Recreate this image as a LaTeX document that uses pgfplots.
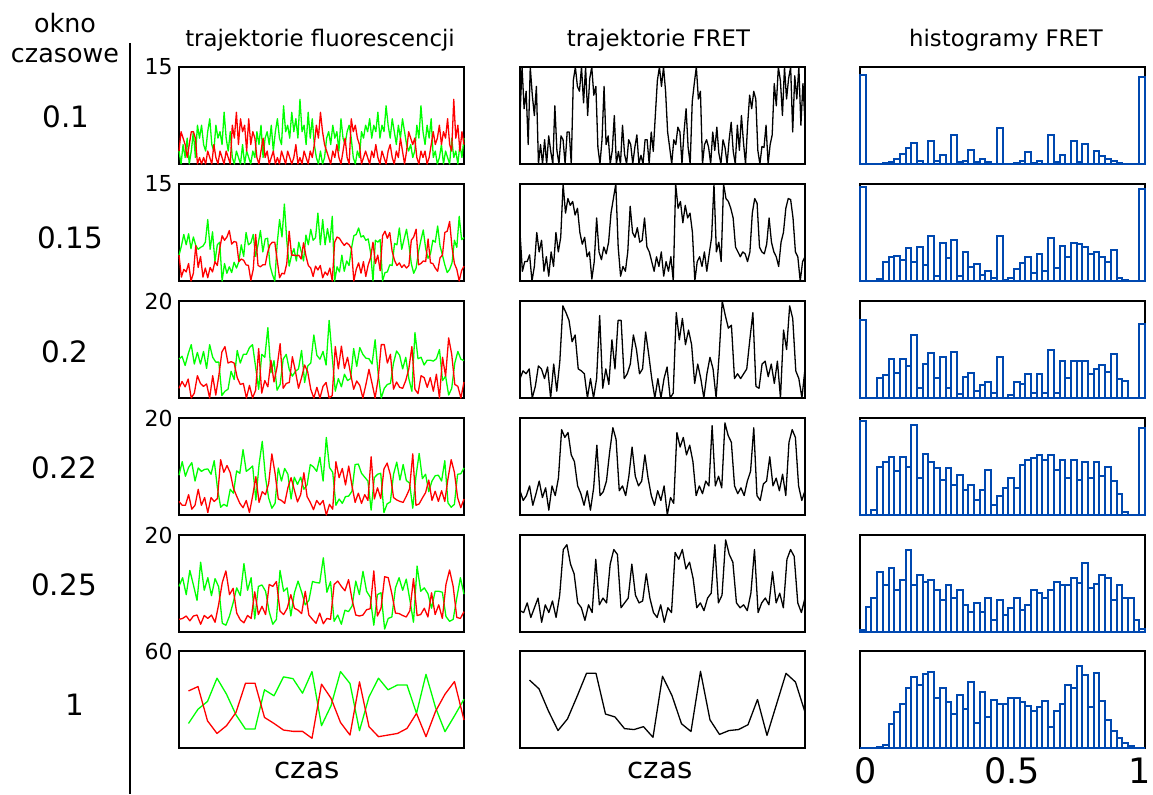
\documentclass[border=0pt]{standalone}
\usepackage{fontspec}
\setmainfont{DejaVu Sans}
\usepackage{pgfplots}
\pgfplotsset{compat=1.18}
\usepackage{pgfplotstable}
\definecolor{hgreen}{RGB}{0,255,0}
\definecolor{hred}{RGB}{255,0,0}
\definecolor{hblue}{RGB}{0,72,176}

\pgfplotsset{
 panel/.style={scale only axis, width=142.5pt, height=48.5pt, anchor=south west,
   xtick=\empty, ytick=\empty, axis line style={line width=1pt, black},
   clip=false, /pgf/number format/assume math mode=true, major tick length=0pt,
   yticklabel style={font=\fontsize{11}{13}\selectfont, inner sep=0pt, xshift=-3pt}},
 trace/.style={no marks, line width=0.65pt, line join=round},
}

\pgfplotstableread{
G R F
2 2 0.5
0 5 1
3 4 0.57
1 3 0.75
4 1 0.2
0 3 1
2 5 0.71
5 5 0.5
1 4 0.8
6 0 0
4 1 0.2
6 0 0
3 1 0.25
2 0 0
5 2 0.29
7 1 0.13
3 0 0
2 3 0.6
6 1 0.14
4 0 0
5 2 0.29
3 1 0.25
8 0 0
4 2 0.33
2 1 0.33
5 0 0
1 6 0.86
0 4 1
2 8 0.8
1 3 0.75
0 7 1
3 5 0.63
0 6 1
2 2 0.5
1 7 0.88
0 3 1
2 5 0.71
1 4 0.8
5 1 0.17
3 0 0
6 2 0.25
1 4 0.8
4 1 0.2
5 2 0.29
3 0 0
6 1 0.14
2 2 0.5
5 0 0
7 1 0.13
4 0 0
3 2 0.4
9 1 0.1
5 0 0
6 2 0.25
4 1 0.2
8 0 0
5 1 0.17
7 3 0.3
4 0 0
10 1 0.09
5 0 0
6 2 0.25
3 1 0.25
8 0 0
4 2 0.33
7 1 0.13
3 3 0.5
1 6 0.86
0 4 1
2 8 0.8
0 5 1
1 3 0.75
4 2 0.33
5 1 0.17
3 0 0
6 2 0.25
4 1 0.2
5 3 0.38
2 1 0.33
7 0 0
4 2 0.33
3 4 0.57
5 1 0.17
6 0 0
4 7 0.64
1 5 0.83
0 6 1
2 4 0.67
1 3 0.75
5 0 0
4 1 0.2
6 2 0.25
5 1 0.17
7 0 0
4 2 0.33
6 1 0.14
5 3 0.38
8 1 0.11
4 0 0
6 2 0.25
5 1 0.17
9 0 0
6 2 0.25
4 3 0.43
7 1 0.13
5 0 0
3 2 0.4
6 1 0.14
4 4 0.5
7 2 0.22
5 0 0
3 2 0.4
2 5 0.71
3 4 0.57
1 3 0.75
2 4 0.67
6 1 0.14
4 0 0
9 2 0.18
5 1 0.17
3 2 0.4
6 0 0
4 1 0.2
7 3 0.3
1 5 0.83
2 3 0.6
0 4 1
1 6 0.86
3 3 0.5
0 5 1
2 4 0.67
1 7 0.88
0 3 1
4 2 0.33
1 10 0.91
2 4 0.67
0 6 1
3 2 0.4
1 5 0.83
4 3 0.43
}\tabA

\pgfplotstableread{
G R F
4 4 0.5
5.4 0.6 0.1
7.2 1.8 0.2
5.6 1.4 0.2
7.3 2.7 0.27
5 0 0
6.8 1.2 0.15
5.5 5.5 0.5
4.9 2.1 0.3
5.2 3.8 0.42
5.4 0.6 0.1
6 2 0.25
9.5 0.5 0.05
4.9 2.1 0.3
7.6 1.4 0.15
3 3 0.5
5.6 2.4 0.3
6 5 0.45
0 7 1
2.7 6.3 0.7
1.2 6.8 0.85
2.2 7.8 0.78
1.3 5.7 0.82
2.9 6.1 0.68
2 6 0.75
3 3 0.5
5.6 3.4 0.38
3.8 3.2 0.45
7.5 2.5 0.25
5.6 2.4 0.3
5.9 0.1 0.02
7.2 1.8 0.2
3.8 7.2 0.65
5.6 2.4 0.3
7.8 2.2 0.22
4.5 2.5 0.35
6.5 2.5 0.28
6.6 4.4 0.4
2.4 5.6 0.7
1 6 0.85
0 6 1
5.8 3.2 0.35
9.5 0.5 0.05
6.8 1.2 0.15
11.9 1.1 0.1
6.3 2.7 0.3
2.3 7.7 0.77
4 4 0.5
5 4 0.45
3.1 3.9 0.55
6 4 0.4
4.6 3.4 0.42
3.1 5.9 0.65
7.1 3.9 0.35
5.6 2.4 0.3
8 2 0.2
6.3 0.7 0.1
6.7 2.3 0.25
10.5 1.7 0.15
5.6 2.4 0.3
9.5 0.5 0.05
5.6 1.4 0.2
8.1 0.9 0.1
6 2 0.25
10 0 0
0 6 1
2.2 6.8 0.75
1.4 6.6 0.82
4 6 0.6
1.5 5.5 0.78
3.1 5.9 0.65
2.4 5.6 0.7
5 5 0.5
7 0 0
7.2 1.8 0.2
8.2 2.8 0.25
6.8 1.2 0.15
7 3 0.3
6.3 0.7 0.1
6.5 2.5 0.28
4.4 3.6 0.45
0 6 1
6.3 2.7 0.3
6 4 0.4
6.4 1.6 0.2
0 7 1
1.3 7.7 0.85
1.4 6.6 0.82
2.5 7.5 0.75
2.4 4.6 0.65
5.8 3.2 0.35
5.6 2.4 0.3
8.2 2.8 0.25
4.9 2.1 0.3
6.5 2.5 0.28
8 2 0.2
5.6 2.4 0.3
2.7 6.3 0.7
1.2 6.8 0.85
2 8 0.8
4.5 2.5 0.35
6.3 2.7 0.3
7.9 3.1 0.28
5 3 0.38
3.5 6.5 0.65
4.2 2.8 0.4
6.3 2.7 0.3
6 2 0.25
8.5 1.5 0.15
5.4 3.6 0.4
4 4 0.5
2.5 7.5 0.75
1.3 7.7 0.85
1.8 9.2 0.84
2.8 5.2 0.65
6.3 2.7 0.3
5.2 1.8 0.25
10 0 0
6.4 1.6 0.2
6.7 2.3 0.25
}\tabB

\pgfplotstableread{
G R F
8 2 0.2
8.6 3.4 0.28
6.7 2.3 0.25
9.1 3.9 0.3
11 0 0
7 1 0.12
9.4 4.6 0.33
7 3 0.3
9.6 2.4 0.2
6.1 2.9 0.32
11 0 0
8.4 4.6 0.35
7.4 0.6 0.07
7.4 4.6 0.38
0.5 9.5 0.95
1.4 10.6 0.88
1.8 7.2 0.8
5.5 7.5 0.58
3.8 7.2 0.65
9.8 4.2 0.3
7.2 2.8 0.28
9 3 0.25
9 0 0
10.4 2.6 0.2
11 0 0
6.4 1.6 0.2
1.8 10.2 0.85
9 1 0.1
8.4 3.6 0.3
14.5 2.3 0.14
5.2 7.8 0.6
7.7 3.3 0.3
1.6 6.4 0.8
2.8 11.2 0.8
8 2 0.2
9 3 0.25
5.8 3.2 0.35
4.5 8.5 0.65
5.5 5.5 0.5
6 2 0.25
9.8 4.2 0.3
3.2 6.8 0.68
6.6 5.4 0.45
7.2 1.8 0.2
13 0 0
8.8 2.2 0.2
8 0 0
9.6 2.4 0.2
6.8 3.2 0.32
16 0 0
8.5 0.5 0.05
1.4 10.6 0.88
4 6 0.6
2.3 10.7 0.82
4.9 6.1 0.55
3.6 8.4 0.7
4 5 0.55
10.2 1.8 0.15
6.5 3.5 0.35
10.4 2.6 0.2
9 0 0
8.2 2.8 0.25
8.1 5.9 0.42
7 3 0.3
12 0 0
5 4 0.45
0 11 1
2 11 0.85
2.8 7.2 0.72
3 9 0.75
7.2 1.8 0.2
9.7 3.3 0.25
8.8 2.2 0.2
6 2 0.25
8.4 3.6 0.3
4 6 0.6
1.4 10.6 0.88
13.5 1.8 0.12
8.1 0.9 0.1
8.4 4.6 0.35
6.8 4.2 0.38
7.8 2.2 0.22
7.8 4.2 0.35
7.6 1.4 0.15
8.1 4.9 0.38
10 0 0
3.6 8.4 0.7
4.5 4.5 0.5
0.6 12.4 0.95
2 9 0.82
7.2 2.8 0.28
9.6 2.4 0.2
8 0 0
7.7 3.3 0.3
}\tabC

\pgfplotstableread{
G R F
8.2 2.8 0.25
11 2 0.15
8 2 0.2
9.8 4.2 0.3
10.8 1.2 0.1
7 2 0.22
9.7 5.3 0.35
9 2 0.18
9.4 3.6 0.28
9.5 0.5 0.05
8.4 3.6 0.3
11.2 2.8 0.2
5.6 3.4 0.38
1.6 11.4 0.88
2.2 8.8 0.8
1.8 10.2 0.85
5.3 8.7 0.62
4.5 5.5 0.55
9.1 3.9 0.3
8.6 2.4 0.22
13.5 1.5 0.1
9 3 0.25
9.5 0.5 0.05
10.1 3.9 0.28
3.1 7.9 0.72
10.4 2.6 0.2
15.2 4.8 0.24
7.8 4.2 0.35
3.5 6.5 0.65
1.4 12.6 0.9
2.4 8.6 0.78
9.7 3.3 0.25
7 3 0.3
9.6 2.4 0.2
8.4 5.6 0.4
3.3 7.7 0.7
7.8 5.2 0.4
6.3 2.7 0.3
7.8 4.2 0.35
5.3 8.7 0.62
6.2 3.8 0.38
10.4 2.6 0.2
9.9 1.1 0.1
9 3 0.25
11.9 2.1 0.15
7 3 0.3
16 0 0
9.8 2.2 0.18
8.8 1.2 0.12
2 11 0.85
3.3 7.7 0.7
2.4 9.6 0.8
3.8 6.2 0.62
3.9 10.1 0.72
4.9 6.1 0.55
10.4 2.6 0.2
10.5 4.5 0.3
8.6 2.4 0.22
7.8 4.2 0.35
7 3 0.3
1 12 0.92
7.7 3.3 0.3
8.4 5.6 0.4
8.6 3.4 0.28
0.5 9.5 0.95
2.3 10.7 0.82
2.7 8.3 0.75
8.4 3.6 0.3
10.9 3.1 0.22
7.2 2.8 0.28
10.4 2.6 0.2
7.1 3.9 0.35
6.6 5.4 0.45
1.4 12.6 0.9
8 2 0.2
12.7 2.3 0.15
7.5 3.5 0.32
8.4 4.6 0.35
4.8 7.2 0.6
7 3 0.3
8.1 4.9 0.38
8.2 2.8 0.25
7 5 0.42
11.2 2.8 0.2
2.5 7.5 0.75
1.6 11.4 0.88
2.2 8.8 0.8
8.4 3.6 0.3
8.5 1.5 0.15
9.7 3.3 0.25
}\tabD

\pgfplotstableread{
G R F
9.4 2.6 0.22
11.2 2.8 0.2
7.7 3.3 0.3
12.7 2.3 0.15
9.7 3.3 0.25
6.5 3.5 0.35
14.4 1.6 0.1
8.6 3.4 0.28
11.2 2.8 0.2
7.5 3.5 0.32
11 2 0.15
9.3 5.7 0.38
1.8 10.2 0.85
1.4 12.6 0.9
3.3 7.7 0.7
6 9 0.6
9.1 3.9 0.3
7.5 2.5 0.25
14.1 1.9 0.12
8.6 3.4 0.28
11.2 2.8 0.2
2.7 8.3 0.75
9.4 3.6 0.28
9.7 5.3 0.35
8.4 3.6 0.3
4.2 9.8 0.7
1.6 9.4 0.85
2.6 10.4 0.8
12.7 4.3 0.25
8.4 3.6 0.3
9.1 4.9 0.35
3.3 7.7 0.7
8.1 4.9 0.38
10.5 4.5 0.3
8.2 3.8 0.32
5.6 8.4 0.6
6.5 3.5 0.35
10.4 2.6 0.2
10.2 1.8 0.15
10.1 3.9 0.28
15.3 1.7 0.1
8.2 2.8 0.25
10.4 2.6 0.2
2.2 9.8 0.82
3.5 10.5 0.75
1.6 9.4 0.85
4.5 8.5 0.65
4.2 10.8 0.72
5.4 6.6 0.55
10.5 3.5 0.25
7.7 3.3 0.3
12.5 3.5 0.22
8.4 4.6 0.35
7.2 4.8 0.4
1.4 12.6 0.9
7.7 3.3 0.3
8.1 4.9 0.38
0.6 11.4 0.95
2.8 11.2 0.8
3.1 7.9 0.72
9.1 3.9 0.3
11.2 3.8 0.25
8.6 3.4 0.28
10.9 3.1 0.22
6.6 4.4 0.4
2 11 0.85
13.6 3.4 0.2
8.4 3.6 0.3
9.1 4.9 0.35
7.9 3.1 0.28
4.9 8.1 0.62
8.4 3.6 0.3
8.4 5.6 0.4
8.2 2.8 0.25
3.2 9.8 0.75
2.2 12.8 0.85
2.6 9.4 0.78
7 3 0.3
11.2 2.8 0.2
7.8 4.2 0.35
}\tabE

\pgfplotstableread{
G R F
15.2 35.3 0.70
24.0 38.0 0.61
28.8 16.8 0.38
43.2 9.0 0.18
33.3 13.8 0.30
20.5 22.0 0.53
11.7 40.1 0.77
11.7 40.1 0.77
36.0 18.9 0.35
32.3 15.2 0.32
44.0 11.1 0.20
42.9 10.3 0.19
33.9 10.3 0.22
47.3 6.0 0.11
13.8 39.5 0.74
26.1 30.8 0.54
47.3 15.8 0.25
39.9 8.0 0.17
10.7 40.9 0.79
31.6 13.2 0.29
43.2 7.0 0.14
36.0 8.0 0.18
39.0 9.0 0.19
39.0 12.1 0.24
21.4 21.4 0.50
45.6 7.0 0.13
25.1 22.6 0.45
10.1 33.3 0.77
19.9 41.1 0.68
30.2 17.3 0.37
}\tabF

\pgfplotstableread{
x h1 h2 h3 h4 h5 h6
0.00 0.92 0.97 0.80 0.97 0.02 0
0.02 0 0 0 0 0.26 0
0.04 0 0 0 0.05 0.35 0.003
0.06 0.005 0.02 0.21 0.5 0.62 0.01
0.08 0.01 0.2 0.24 0.55 0.48 0.03
0.10 0.025 0.25 0.40 0.6 0.66 0.25
0.12 0.05 0.26 0.26 0.45 0.43 0.37
0.14 0.1 0.22 0.40 0.6 0.54 0.45
0.16 0.16 0.34 0.33 0.5 0.85 0.62
0.18 0.22 0.2 0.65 0.93 0.48 0.73
0.20 0.03 0.35 0.10 0.38 0.59 0.65
0.22 0 0.17 0.35 0.63 0.52 0.76
0.24 0.24 0.46 0.46 0.55 0.54 0.78
0.26 0.03 0.05 0.21 0.48 0.43 0.52
0.28 0.09 0.39 0.42 0.36 0.33 0.62
0.30 0 0.24 0.10 0.48 0.48 0.47
0.32 0.30 0.42 0.47 0.31 0.35 0.35
0.34 0.02 0.05 0.04 0.41 0.43 0.55
0.36 0.03 0.3 0.22 0.26 0.28 0.40
0.38 0.14 0.14 0.26 0.31 0.21 0.68
0.40 0.02 0.18 0.07 0.15 0.30 0.26
0.42 0.05 0.06 0.13 0.26 0.21 0.58
0.44 0.02 0.1 0.16 0.46 0.35 0.32
0.46 0 0.03 0.05 0.1 0.12 0.49
0.48 0.37 0.46 0.42 0.2 0.33 0.45
0.50 0 0.01 0 0.28 0.18 0.45
0.52 0 0.03 0.03 0.38 0.25 0.52
0.54 0.01 0.12 0.17 0.28 0.35 0.52
0.56 0.03 0.19 0.14 0.52 0.23 0.47
0.58 0.12 0.25 0.25 0.57 0.28 0.43
0.60 0.01 0.08 0.05 0.59 0.43 0.38
0.62 0.03 0.28 0.25 0.62 0.40 0.42
0.64 0 0.1 0.05 0.57 0.35 0.48
0.66 0.30 0.44 0.49 0.62 0.43 0.22
0.68 0.02 0.13 0.05 0.46 0.52 0.38
0.70 0.09 0.36 0.38 0.57 0.48 0.45
0.72 0 0.25 0.21 0.38 0.48 0.65
0.74 0.24 0.39 0.38 0.57 0.56 0.62
0.76 0.02 0.38 0.38 0.36 0.51 0.85
0.78 0.21 0.35 0.38 0.55 0.71 0.75
0.80 0 0.28 0.25 0.38 0.45 0.42
0.82 0.13 0.3 0.30 0.55 0.50 0.77
0.84 0.08 0.25 0.34 0.4 0.59 0.48
0.86 0.055 0.2 0.27 0.5 0.56 0.29
0.88 0.035 0.32 0.45 0.35 0.33 0.18
0.90 0.01 0.03 0.20 0.22 0.48 0.10
0.92 0 0.01 0.18 0.03 0.35 0.05
0.94 0 0 0 0 0.35 0.02
0.96 0 0 0 0 0.12 0
0.98 0.90 0.95 0.76 0.9 0.03 0
1.00 0 0 0 0 0 0
}\hist

\begin{document}
\begin{tikzpicture}
\path[use as bounding box] (0,0) rectangle (576.5pt,397pt);

% left labels
\node[anchor=base, inner sep=0pt, font=\fontsize{12.7}{15}\selectfont] at (32.5pt,380.5pt) {okno};
\node[anchor=base, inner sep=0pt, font=\fontsize{12.7}{15}\selectfont] at (32.5pt,365.5pt) {czasowe};
\draw[line width=0.75pt] (65pt,375.5pt) -- (65pt,0pt);
\begin{scope}[every node/.style={inner sep=0pt, font=\fontsize{14.7}{17}\selectfont}]
\node at (33pt,338.5pt) {0.1};
\node at (35pt,278pt) {0.15};
\node at (32.5pt,221pt) {0.2};
\node at (32pt,163pt) {0.22};
\node at (32pt,104.5pt) {0.25};
\node at (37.5pt,44.5pt) {1};
\node[anchor=base] at (153.5pt,8pt) {czas};
\node[anchor=base] at (330pt,8pt) {czas};
\end{scope}
\begin{scope}[every node/.style={inner sep=0pt, anchor=base, font=\fontsize{11.4}{13}\selectfont}]
\node at (160pt,373.5pt) {trajektorie fluorescencji};
\node at (329.25pt,373.5pt) {trajektorie FRET};
\node at (503pt,373.5pt) {histogramy FRET};
\end{scope}

% ---------- column 1: fluorescence ----------
\begin{axis}[panel, at={(89.5pt,315pt)}, xmin=0, xmax=139, ymin=0, ymax=15, ytick={15}]
\addplot[trace, hgreen] table[x expr=\coordindex, y=G]{\tabA};
\addplot[trace, hred] table[x expr=\coordindex, y=R]{\tabA};
\end{axis}
\begin{axis}[panel, at={(89.5pt,256.5pt)}, xmin=0, xmax=119, ymin=0, ymax=15, ytick={15}]
\addplot[trace, hgreen] table[x expr=\coordindex, y=G]{\tabB};
\addplot[trace, hred] table[x expr=\coordindex, y=R]{\tabB};
\end{axis}
\begin{axis}[panel, at={(89.5pt,198pt)}, xmin=0, xmax=93, ymin=0, ymax=20, ytick={20}]
\addplot[trace, hgreen] table[x expr=\coordindex, y=G]{\tabC};
\addplot[trace, hred] table[x expr=\coordindex, y=R]{\tabC};
\end{axis}
\begin{axis}[panel, at={(89.5pt,139.5pt)}, xmin=0, xmax=89, ymin=0, ymax=20, ytick={20}]
\addplot[trace, hgreen] table[x expr=\coordindex, y=G]{\tabD};
\addplot[trace, hred] table[x expr=\coordindex, y=R]{\tabD};
\end{axis}
\begin{axis}[panel, at={(89.5pt,81pt)}, xmin=0, xmax=79, ymin=0, ymax=20, ytick={20}]
\addplot[trace, hgreen] table[x expr=\coordindex, y=G]{\tabE};
\addplot[trace, hred] table[x expr=\coordindex, y=R]{\tabE};
\end{axis}
\begin{axis}[panel, at={(89.5pt,23pt)}, xmin=-1, xmax=29, ymin=0, ymax=60, ytick={60}]
\addplot[trace, hgreen] table[x expr=\coordindex, y=G]{\tabF};
\addplot[trace, hred] table[x expr=\coordindex, y=R]{\tabF};
\end{axis}

% ---------- column 2: FRET ----------
\begin{axis}[panel, at={(260pt,315pt)}, xmin=0, xmax=139, ymin=0, ymax=1]
\addplot[trace, black] table[x expr=\coordindex, y=F]{\tabA};
\end{axis}
\begin{axis}[panel, at={(260pt,256.5pt)}, xmin=0, xmax=119, ymin=0, ymax=1]
\addplot[trace, black] table[x expr=\coordindex, y=F]{\tabB};
\end{axis}
\begin{axis}[panel, at={(260pt,198pt)}, xmin=0, xmax=93, ymin=0, ymax=1]
\addplot[trace, black] table[x expr=\coordindex, y=F]{\tabC};
\end{axis}
\begin{axis}[panel, at={(260pt,139.5pt)}, xmin=0, xmax=89, ymin=0, ymax=1]
\addplot[trace, black] table[x expr=\coordindex, y=F]{\tabD};
\end{axis}
\begin{axis}[panel, at={(260pt,81pt)}, xmin=0, xmax=79, ymin=0, ymax=1]
\addplot[trace, black] table[x expr=\coordindex, y=F]{\tabE};
\end{axis}
\begin{axis}[panel, at={(260pt,23pt)}, xmin=-1, xmax=29, ymin=0, ymax=1]
\addplot[trace, black] table[x expr=\coordindex, y=F]{\tabF};
\end{axis}

% ---------- column 3: histograms ----------
\begin{axis}[panel, at={(430pt,315pt)}, xmin=0, xmax=1, ymin=0, ymax=1]
\addplot[ybar interval, draw=hblue, fill=none, line width=1pt] table[x=x, y=h1]{\hist};
\end{axis}
\begin{axis}[panel, at={(430pt,256.5pt)}, xmin=0, xmax=1, ymin=0, ymax=1]
\addplot[ybar interval, draw=hblue, fill=none, line width=1pt] table[x=x, y=h2]{\hist};
\end{axis}
\begin{axis}[panel, at={(430pt,198pt)}, xmin=0, xmax=1, ymin=0, ymax=1]
\addplot[ybar interval, draw=hblue, fill=none, line width=1pt] table[x=x, y=h3]{\hist};
\end{axis}
\begin{axis}[panel, at={(430pt,139.5pt)}, xmin=0, xmax=1, ymin=0, ymax=1]
\addplot[ybar interval, draw=hblue, fill=none, line width=1pt] table[x=x, y=h4]{\hist};
\end{axis}
\begin{axis}[panel, at={(430pt,81pt)}, xmin=0, xmax=1, ymin=0, ymax=1]
\addplot[ybar interval, draw=hblue, fill=none, line width=1pt] table[x=x, y=h5]{\hist};
\end{axis}
\begin{axis}[panel, at={(430pt,23pt)}, xmin=0, xmax=1, ymin=0, ymax=1,
  xtick={0.021,0.533,0.982}, xticklabels={0,0.5,1},
  xticklabel style={font=\fontsize{17.5}{20}\selectfont, inner sep=0pt, anchor=north, yshift=-4.7pt}]
\addplot[ybar interval, draw=hblue, fill=none, line width=1pt] table[x=x, y=h6]{\hist};
\end{axis}
\end{tikzpicture}
\end{document}
